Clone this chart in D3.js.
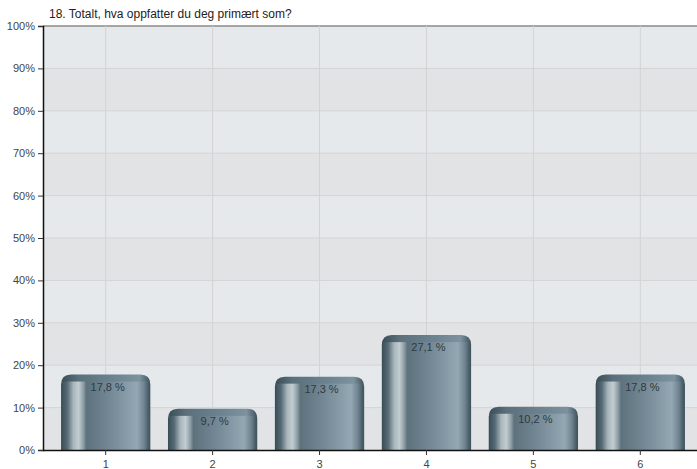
<!DOCTYPE html>
<html>
<head>
<meta charset="utf-8">
<script src="https://cdn.jsdelivr.net/npm/d3@7"></script>
<style>
  html, body { margin: 0; padding: 0; background: #ffffff; }
  svg { display: block; font-family: "Liberation Sans", Arial, sans-serif; }
</style>
</head>
<body>
<svg id="chart" width="697" height="469"></svg>
<script>
// Survey question and answer shares (percent)
const title = "18. Totalt, hva oppfatter du deg primært som?";
const categories = ["1", "2", "3", "4", "5", "6"];
const values = [17.8, 9.7, 17.3, 27.1, 10.2, 17.8];
const yTicks = [0, 10, 20, 30, 40, 50, 60, 70, 80, 90, 100];

const svg = d3.select("#chart");
const plot = { left: 43, right: 697, top: 26, bottom: 450 };

const x = d3.scaleBand()
  .domain(categories)
  .range([52.5, 693.5])
  .paddingInner(0.165)
  .paddingOuter(0.08);

const y = d3.scaleLinear().domain([0, 100]).range([plot.bottom, plot.top]);

const defs = svg.append("defs");

// Cylinder-like body gradient (with a bright highlight on the left)
const body = defs.append("linearGradient").attr("id", "barBody")
  .attr("x1", "0%").attr("x2", "100%").attr("y1", "0%").attr("y2", "0%");
[
  [0, "#3e525c"], [0.06, "#566b76"], [0.13, "#a9b6bc"], [0.19, "#c3cdd1"],
  [0.245, "#8c9da5"], [0.28, "#5d727d"], [0.55, "#748995"], [0.86, "#93a8b3"],
  [0.94, "#6f8490"], [1, "#425660"]
].forEach(([o, c]) => body.append("stop").attr("offset", o).attr("stop-color", c));

// Darker cap across the rounded top
const cap = defs.append("linearGradient").attr("id", "barCap")
  .attr("x1", "0%").attr("x2", "100%").attr("y1", "0%").attr("y2", "0%");
[
  [0, "#3a4d57"], [0.2, "#5b707b"], [0.6, "#6d8390"], [0.88, "#7c929e"], [1, "#3f535d"]
].forEach(([o, c]) => cap.append("stop").attr("offset", o).attr("stop-color", c));

// Plot background with alternating horizontal bands
const bands = d3.range(0, 100, 10);
svg.append("g").selectAll("rect").data(bands).join("rect")
  .attr("x", plot.left)
  .attr("width", plot.right - plot.left)
  .attr("y", d => y(d + 10))
  .attr("height", d => y(d) - y(d + 10))
  .attr("fill", d => (d / 10) % 2 === 0 ? "#e2e3e5" : "#e6e9ec");

// Grid lines
svg.append("g").selectAll("line").data(yTicks.slice(1)).join("line")
  .attr("x1", plot.left).attr("x2", plot.right)
  .attr("y1", d => y(d)).attr("y2", d => y(d))
  .attr("stroke", d => d === 100 ? "#8a8a8a" : "#d3d3d3")
  .attr("stroke-width", d => d === 100 ? 1.5 : 1);

svg.append("g").selectAll("line").data(categories).join("line")
  .attr("x1", d => x(d) + x.bandwidth() / 2).attr("x2", d => x(d) + x.bandwidth() / 2)
  .attr("y1", plot.top).attr("y2", plot.bottom)
  .attr("stroke", "#d3d3d3");

// Rounded-top bar outline
function barPath(x0, w, top, bottom, r) {
  return `M${x0},${bottom}V${top + r}Q${x0},${top} ${x0 + r},${top}` +
    `H${x0 + w - r}Q${x0 + w},${top} ${x0 + w},${top + r}V${bottom}Z`;
}

const bars = svg.append("g").selectAll("g").data(values).join("g");
const r = 10;
bars.append("path")
  .attr("d", (d, i) => barPath(x(categories[i]), x.bandwidth(), y(d), y(0), r))
  .attr("fill", "url(#barCap)");
bars.append("rect")
  .attr("x", (d, i) => x(categories[i]) + 1)
  .attr("width", x.bandwidth() - 2)
  .attr("y", d => y(d) + 7)
  .attr("height", d => y(0) - y(d) - 7)
  .attr("fill", "url(#barBody)");

// Value labels
bars.append("text")
  .attr("x", (d, i) => x(categories[i]) + x.bandwidth() / 2 + 2)
  .attr("y", d => y(d) + 16)
  .attr("text-anchor", "middle")
  .attr("font-size", 11)
  .attr("fill", "#2f3a40")
  .text(d => d.toFixed(1).replace(".", ",") + " %");

// Axes
const yAxis = d3.axisLeft(y).tickValues(yTicks).tickSize(5).tickFormat(d => d + "%");
const gy = svg.append("g").attr("transform", `translate(${plot.left},0)`).call(yAxis);
gy.select(".domain").attr("stroke", "#111").attr("stroke-width", 1.5);
gy.selectAll(".tick line").attr("stroke", "#333");
gy.selectAll(".tick text").attr("font-size", 11).attr("fill", "#444")
  .attr("font-family", "Liberation Sans, Arial, sans-serif");

const xAxis = d3.axisBottom(x).tickSize(5).tickSizeOuter(0);
const gx = svg.append("g").attr("transform", `translate(0,${plot.bottom})`).call(xAxis);
gx.select(".domain").attr("d", `M${plot.left},0.5H${plot.right}`)
  .attr("stroke", "#111").attr("stroke-width", 1.5);
gx.selectAll(".tick line").attr("stroke", "#333");
gx.selectAll(".tick text").attr("font-size", 11).attr("fill", "#444").attr("dy", "0.95em")
  .attr("font-family", "Liberation Sans, Arial, sans-serif");

// Title
svg.append("text")
  .attr("x", 49).attr("y", 18)
  .attr("font-size", 12)
  .attr("fill", "#222")
  .text(title);
</script>
</body>
</html>
